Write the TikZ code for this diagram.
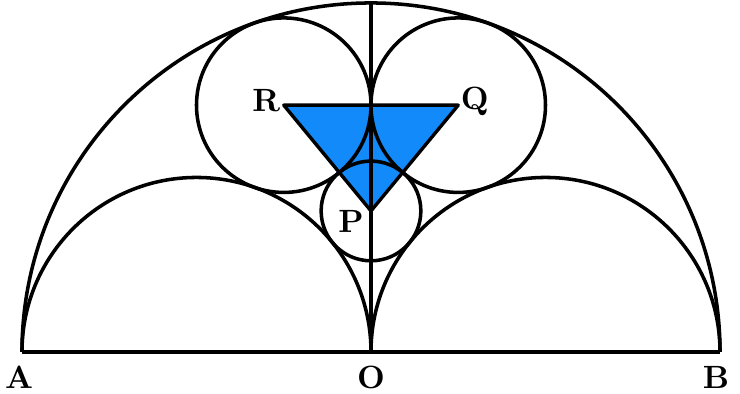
\documentclass[tikz,border=0pt]{standalone}
\usepackage{xcolor}
\usepackage{tikz}
\usetikzlibrary{positioning,calc}
\definecolor{fillblue}{RGB}{18,138,250}
\tikzset{
  arc/.style={line width=1.15pt,draw=black},
  base/.style={line width=1.4pt,draw=black},
  tri/.style={line width=1.1pt,draw=black,fill=fillblue,line join=round},
  lbl/.style={font=\fontsize{10.5}{12}\selectfont\bfseries,inner sep=0pt},
}

\begin{document}
\begin{tikzpicture}
  \useasboundingbox (-4.252,-0.481) rectangle (4.229,4.034);
  % points
  \coordinate (O) at (0,0);
  \coordinate (A) at (-4,0);
  \coordinate (B) at (4,0);
  \coordinate (C) at (0,4);
  \coordinate (R) at (-1,2.8284);
  \coordinate (Q) at (1,2.8284);
  \coordinate (P) at (0,1.6162);
  % triangle
  \draw[tri] (R) -- (Q) -- (P) -- cycle;
  % semicircles
  \draw[arc] (B) arc[start angle=0,end angle=180,radius=4];
  \draw[arc] (O) arc[start angle=0,end angle=180,radius=2];
  \draw[arc] (B) arc[start angle=0,end angle=180,radius=2];
  % inner circles
  \draw[arc] (R) circle[radius=1];
  \draw[arc] (Q) circle[radius=1];
  \draw[arc] (P) circle[radius=0.5714];
  % axis and diameter
  \draw[arc] (O) -- (C);
  \draw[base] (A) -- (B);
  % labels
  \node[lbl] (lR) at ($(R)+(-0.2,0.057)$) {R};
  \node[lbl] (lQ) at ($(Q)+(0.19,0.045)$) {Q};
  \node[lbl] (lP) at ($(P)+(-0.229,-0.115)$) {P};
  \node[lbl] (lA) at ($(A)+(-0.034,-0.29)$) {A};
  \node[lbl] (lO) at ($(O)+(0,-0.29)$) {O};
  \node[lbl] (lB) at ($(B)+(-0.046,-0.29)$) {B};
\end{tikzpicture}
\end{document}
